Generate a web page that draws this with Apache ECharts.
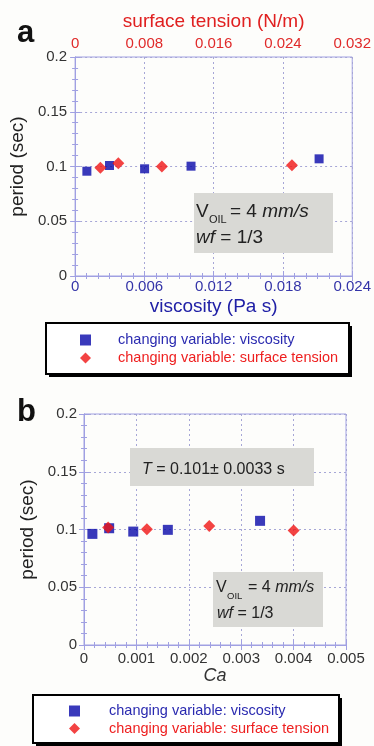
<!DOCTYPE html>
<html>
<head>
<meta charset="utf-8">
<script src="https://cdn.jsdelivr.net/npm/echarts@6/dist/echarts.min.js"></script>
<style>
html,body{margin:0;padding:0;background:#fdfdfb;}
#c{width:374px;height:746px;}
</style>
</head>
<body>
<div id="c"></div>
<script>
// ---- data ----
const periodTicks = [0, 0.05, 0.1, 0.15, 0.2];
const viscosityTicks = [0, 0.006, 0.012, 0.018, 0.024];
const tensionTicks = [0, 0.008, 0.016, 0.024, 0.032];
const caTicks = [0, 0.001, 0.002, 0.003, 0.004, 0.005];

// panel a: changing viscosity (bottom axis, Pa s)
const viscA_x = [0.00102, 0.00298, 0.00602, 0.01004, 0.02113];
const viscA_y = [0.0957, 0.1009, 0.0979, 0.1003, 0.1070];
// panel a: changing surface tension (top axis, N/m)
const tensA_x = [0.00292, 0.00499, 0.01002, 0.02504];
const tensA_y = [0.0988, 0.1030, 0.1000, 0.1012];
// panel b: vs Ca
const caVisc_x = [0.00016, 0.00048, 0.00094, 0.00160, 0.00336];
const caVisc_y = [0.0962, 0.1011, 0.0982, 0.0997, 0.1075];
const caTens_x = [0.00046, 0.00120, 0.00239, 0.00400];
const caTens_y = [0.1017, 0.1003, 0.1030, 0.0991];

const nameVisc = 'changing variable: viscosity';
const nameTens = 'changing variable: surface tension';

// ---- styles ----
const FF = 'Liberation Sans, Arial, sans-serif';
const FRAME = '#a0a0e2';
const GRIDC = '#a6a6d6';
const BLUE = '#0808aa';
const RED = '#f01414';

const zip = (xs, ys) => xs.map((x, i) => [x, ys[i]]);
const rng = t => ({min: t[0], max: t[t.length - 1], interval: t[1] - t[0]});

function baseAxis(ticks, minorN, extra) {
  return Object.assign({
    type: 'value', ...rng(ticks),
    axisLine: {show: true, lineStyle: {color: FRAME, width: 1}},
    axisTick: {show: true, inside: true, length: 5, lineStyle: {color: FRAME}},
    minorTick: {show: true, splitNumber: minorN, length: 3, lineStyle: {color: FRAME}},
    splitLine: {show: false},
    axisLabel: {show: false}
  }, extra);
}
const dashed = {show: true, lineStyle: {color: GRIDC, type: [2, 3], width: 1}};

function legendBox(x, y, w, h) {
  return [
    {type: 'rect', z: 3, shape: {x: x + 3, y: y + 3, width: w, height: h}, style: {fill: '#000'}},
    {type: 'rect', z: 3, shape: {x: x, y: y, width: w, height: h}, style: {fill: '#fff', stroke: '#000', lineWidth: 2}}
  ];
}
function legendOpt(left, top, padding, gap, textPad) {
  return {orient: 'vertical', left: left, top: top, padding: padding, itemGap: gap, z: 10,
    itemWidth: 11, itemHeight: 11,
    textStyle: {fontSize: 14.5, lineHeight: 16, fontFamily: FF, padding: [0, 0, 0, textPad]},
    data: [{name: nameVisc, textStyle: {color: '#2a2ab0'}}, {name: nameTens, textStyle: {color: '#ee2020'}}]};
}

const option = {
  backgroundColor: '#fdfdfb',
  animation: false,
  textStyle: {fontFamily: FF},
  grid: [
    {left: 71, top: 57, width: 282, height: 219, show: true, borderColor: FRAME, borderWidth: 1, backgroundColor: 'transparent'},
    {left: 84, top: 414, width: 262, height: 231, show: true, borderColor: FRAME, borderWidth: 1, backgroundColor: 'transparent'}
  ],
  xAxis: [
    baseAxis(viscosityTicks, 6, {gridIndex: 0, position: 'bottom', splitLine: dashed,
      axisLabel: {show: true, color: '#3434a8', fontSize: 15, margin: 3, fontFamily: FF},
      name: 'viscosity (Pa s)', nameLocation: 'middle', nameGap: 21,
      nameTextStyle: {color: '#2020a6', fontSize: 19, fontFamily: FF}}),
    baseAxis(tensionTicks, 6, {gridIndex: 0, position: 'top',
      axisLabel: {show: true, color: '#e02a2a', fontSize: 15, margin: 6, fontFamily: FF},
      name: 'surface tension (N/m)', nameLocation: 'middle', nameGap: 26,
      nameTextStyle: {color: '#e02020', fontSize: 19, fontFamily: FF}}),
    baseAxis(caTicks, 5, {gridIndex: 1, position: 'bottom', splitLine: dashed,
      axisLabel: {show: true, color: '#333', fontSize: 15, margin: 6, fontFamily: FF},
      name: 'Ca', nameLocation: 'middle', nameGap: 22,
      nameTextStyle: {color: '#333', fontSize: 18, fontStyle: 'italic', fontFamily: FF}}),
    baseAxis(caTicks, 5, {gridIndex: 1, position: 'top'})
  ],
  yAxis: [
    baseAxis(periodTicks, 5, {gridIndex: 0, position: 'left', splitLine: dashed,
      axisLabel: {show: true, color: '#333', fontSize: 15, margin: 8, fontFamily: FF},
      name: 'period (sec)', nameLocation: 'middle', nameGap: 41,
      nameTextStyle: {color: '#222', fontSize: 19, fontFamily: FF}}),
    baseAxis(periodTicks, 5, {gridIndex: 0, position: 'right'}),
    baseAxis(periodTicks, 5, {gridIndex: 1, position: 'left', splitLine: dashed,
      axisLabel: {show: true, color: '#333', fontSize: 15, margin: 7, fontFamily: FF},
      name: 'period (sec)', nameLocation: 'middle', nameGap: 46,
      nameTextStyle: {color: '#222', fontSize: 19, fontFamily: FF}}),
    baseAxis(periodTicks, 5, {gridIndex: 1, position: 'right'})
  ],
  legend: [
    legendOpt(46, 323, [9, 10, 6, 34], 2, 22),
    legendOpt(33, 695, [8, 10, 5, 36], 1.5, 24)
  ],
  series: [
    {type: 'scatter', name: nameVisc, xAxisIndex: 0, yAxisIndex: 0, data: zip(viscA_x, viscA_y),
      symbol: 'rect', symbolSize: 9, itemStyle: {color: BLUE}},
    {type: 'scatter', name: nameTens, xAxisIndex: 1, yAxisIndex: 0, data: zip(tensA_x, tensA_y),
      symbol: 'diamond', symbolSize: 12, itemStyle: {color: RED}},
    {type: 'scatter', name: nameVisc, xAxisIndex: 2, yAxisIndex: 2, data: zip(caVisc_x, caVisc_y),
      symbol: 'rect', symbolSize: 10, itemStyle: {color: BLUE}},
    {type: 'scatter', name: nameTens, xAxisIndex: 2, yAxisIndex: 2, data: zip(caTens_x, caTens_y),
      symbol: 'diamond', symbolSize: 12, itemStyle: {color: RED}}
  ],
  graphic: [
    {type: 'text', left: 17, top: 18, z: 10, style: {text: 'a', font: 'bold 31px ' + FF, fill: '#111'}},
    {type: 'text', left: 17, top: 397, z: 10, style: {text: 'b', font: 'bold 31px ' + FF, fill: '#111'}},
    // legend boxes
    ...legendBox(46, 323, 303, 51),
    ...legendBox(33, 695, 306, 48),
    // panel a annotation
    {type: 'rect', z: 1, shape: {x: 194, y: 193, width: 139, height: 60}, style: {fill: '#d9d9d5'}},
    {type: 'text', z: 2, x: 196, y: 212, style: {text: 'V', font: '19px ' + FF, fill: '#222', verticalAlign: 'middle'}},
    {type: 'text', z: 2, x: 209, y: 220, style: {text: 'OIL', font: '11px ' + FF, fill: '#222', verticalAlign: 'middle'}},
    {type: 'text', z: 2, x: 230, y: 212, style: {rich: {n: {font: '19px ' + FF, fill: '#222'}, i: {font: 'italic 19px ' + FF, fill: '#222'}}, text: '{n|= 4 }{i|mm/s}', verticalAlign: 'middle'}},
    {type: 'text', z: 2, x: 196, y: 238, style: {rich: {n: {font: '19px ' + FF, fill: '#222'}, i: {font: 'italic 19px ' + FF, fill: '#222'}}, text: '{i|wf}{n| = 1/3}', verticalAlign: 'middle'}},
    // panel b T annotation
    {type: 'rect', z: 1, shape: {x: 130, y: 448, width: 184, height: 38}, style: {fill: '#d9d9d5'}},
    {type: 'text', z: 2, x: 142, y: 470, style: {rich: {n: {font: '16px ' + FF, fill: '#222'}, i: {font: 'italic 16px ' + FF, fill: '#222'}}, text: '{i|T}{n| = 0.101± 0.0033 s}', verticalAlign: 'middle'}},
    // panel b V annotation
    {type: 'rect', z: 1, shape: {x: 213, y: 572, width: 110, height: 55}, style: {fill: '#d9d9d5'}},
    {type: 'text', z: 2, x: 216, y: 588, style: {text: 'V', font: '16px ' + FF, fill: '#222', verticalAlign: 'middle'}},
    {type: 'text', z: 2, x: 227, y: 596, style: {text: 'OIL', font: '9.5px ' + FF, fill: '#222', verticalAlign: 'middle'}},
    {type: 'text', z: 2, x: 248, y: 588, style: {rich: {n: {font: '16px ' + FF, fill: '#222'}, i: {font: 'italic 16px ' + FF, fill: '#222'}}, text: '{n|= 4 }{i|mm/s}', verticalAlign: 'middle'}},
    {type: 'text', z: 2, x: 217, y: 614, style: {rich: {n: {font: '16px ' + FF, fill: '#222'}, i: {font: 'italic 16px ' + FF, fill: '#222'}}, text: '{i|wf}{n| = 1/3}', verticalAlign: 'middle'}}
  ]
};
const chart = echarts.init(document.getElementById('c'), null, {renderer: 'canvas'});
chart.setOption(option);
</script>
</body>
</html>
